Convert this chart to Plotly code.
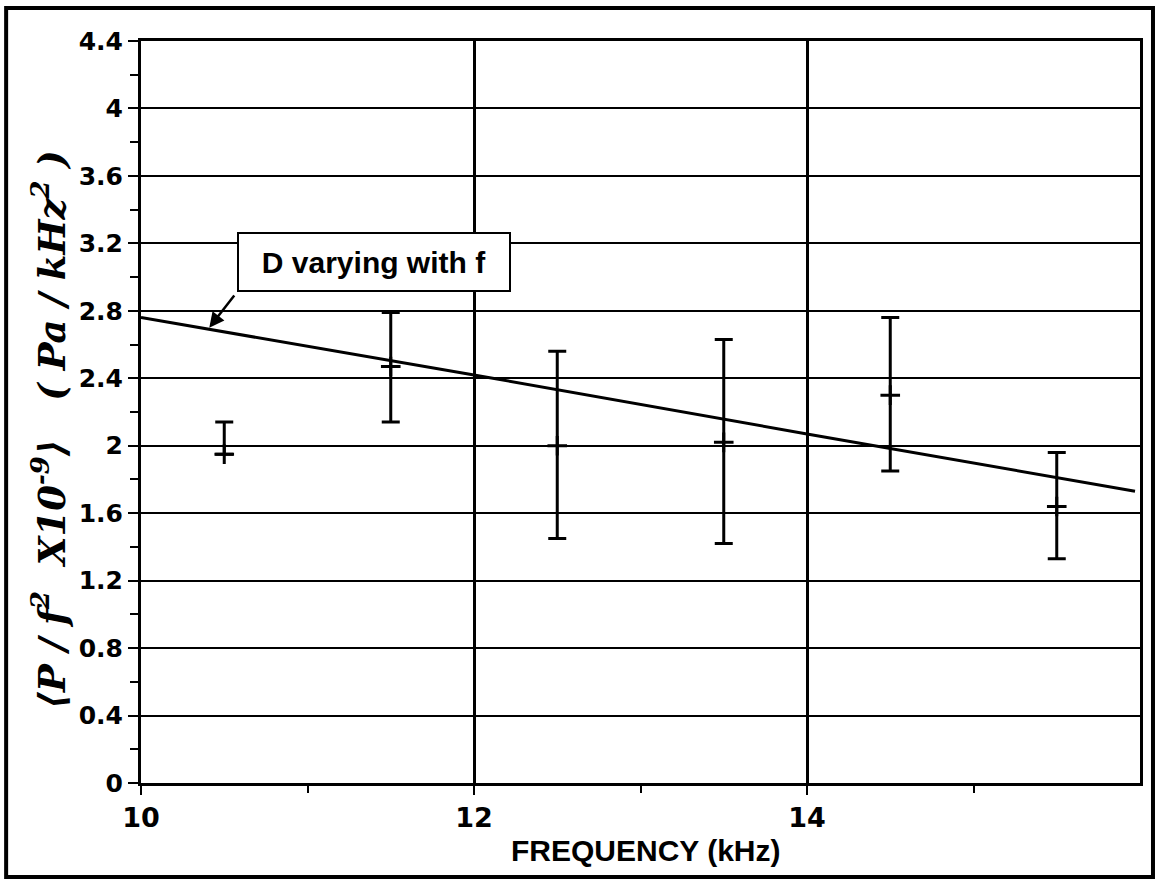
import plotly.graph_objects as go

# ---- data ----
freq = [10.5, 11.5, 12.5, 13.5, 14.5, 15.5]
mean_val = [1.95, 2.47, 2.00, 2.02, 2.30, 1.64]
upper_val = [2.14, 2.79, 2.56, 2.63, 2.76, 1.96]
lower_val = [1.95, 2.14, 1.45, 1.42, 1.85, 1.33]

model_f = [10.0, 12.0, 14.0, 15.97]
model_v = [2.76, 2.42, 2.07, 1.73]

y_ticks = [0, 0.4, 0.8, 1.2, 1.6, 2.0, 2.4, 2.8, 3.2, 3.6, 4.0, 4.4]
y_labels = ["0", "0.4", "0.8", "1.2", "1.6", "2", "2.4", "2.8", "3.2", "3.6", "4", "4.4"]
y_minor = [0.2, 0.6, 1.0, 1.4, 1.8, 2.2, 2.6, 3.0, 3.4, 3.8, 4.2]
x_ticks = [10, 12, 14]
x_labels = ["10", "12", "14"]
x_minor = [11, 13, 15]

err_plus = [u - m for u, m in zip(upper_val, mean_val)]
err_minus = [m - l for m, l in zip(mean_val, lower_val)]

fig = go.Figure()

fig.add_trace(go.Scatter(
    x=model_f, y=model_v, mode="lines",
    line=dict(color="black", width=3),
    showlegend=False, hoverinfo="skip",
))

fig.add_trace(go.Scatter(
    x=freq, y=mean_val, mode="markers",
    marker=dict(symbol="cross-thin", size=14, color="black",
                line=dict(color="black", width=3)),
    error_y=dict(type="data", symmetric=False, array=err_plus,
                 arrayminus=err_minus, color="black", thickness=3, width=9),
    showlegend=False,
))

tick_font = dict(family="DejaVu Sans", size=25, color="black", weight="bold")

fig.update_layout(
    width=1160, height=881,
    margin=dict(l=141, r=20, t=41, b=98),
    paper_bgcolor="white", plot_bgcolor="white",
    xaxis=dict(
        range=[10, 16], tickvals=x_ticks, ticktext=x_labels,
        ticks="outside", ticklen=9, tickwidth=2, tickcolor="black",
        showline=True, linewidth=3, linecolor="black", mirror=True,
        showgrid=True, gridcolor="black", gridwidth=2.5, zeroline=False,
        tickfont=dict(family="DejaVu Sans", size=27, color="black", weight="bold"),
        minor=dict(tickvals=x_minor, ticks="outside", ticklen=7, tickwidth=2,
                   tickcolor="black", showgrid=False),
    ),
    yaxis=dict(
        range=[0, 4.4], tickvals=y_ticks, ticktext=y_labels,
        ticks="outside", ticklen=10, tickwidth=2, tickcolor="black",
        showline=True, linewidth=3, linecolor="black", mirror=True,
        showgrid=True, gridcolor="black", gridwidth=2, zeroline=False,
        tickfont=tick_font,
        minor=dict(tickvals=y_minor, ticks="outside", ticklen=8, tickwidth=2,
                   tickcolor="black", showgrid=False),
    ),
    shapes=[dict(type="rect", xref="paper", yref="paper",
                 x0=-0.135, x1=1.013, y0=-0.1267, y1=1.0445,
                 line=dict(color="black", width=4), fillcolor="rgba(0,0,0,0)",
                 layer="below")],
)

# axis titles
fig.add_annotation(
    xref="paper", yref="paper", x=0.505, y=-0.0903,
    text="FREQUENCY (kHz)", showarrow=False, xanchor="center", yanchor="middle",
    font=dict(family="Liberation Sans", size=30, color="black", weight="bold"),
)
fig.add_annotation(
    xref="paper", yref="paper", x=-0.091, y=0.476,
    text="⟨P / f<sup>2</sup>  X10<sup>-9</sup>⟩   ( Pa / kHz<sup>2</sup> )",
    textangle=-90, showarrow=False, xanchor="center", yanchor="middle",
    font=dict(family="DejaVu Serif", size=37, color="black",
              weight="bold", style="italic"),
)

# callout box and arrow
fig.add_annotation(
    x=11.40, y=3.09, xref="x", yref="y",
    text="D varying with f", showarrow=False,
    xanchor="center", yanchor="middle",
    width=268, height=54, borderpad=1,
    bgcolor="white", bordercolor="black", borderwidth=2,
    font=dict(family="Liberation Sans", size=30, color="black", weight="bold"),
)
fig.add_annotation(
    x=10.41, y=2.70, xref="x", yref="y",
    ax=28, ay=-36, axref="pixel", ayref="pixel",
    text=" ", showarrow=True, arrowhead=2, arrowsize=1.2,
    arrowwidth=2.5, arrowcolor="black",
)

fig.write_html("out.html")
